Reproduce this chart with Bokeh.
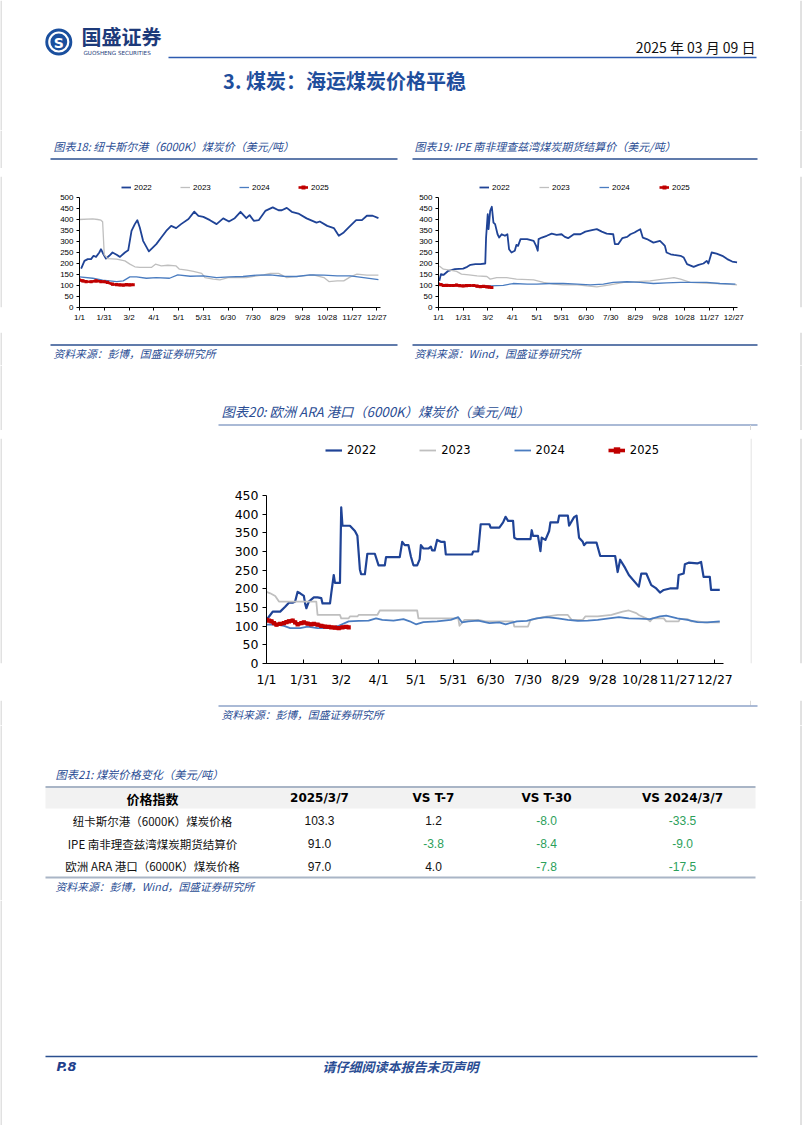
from bokeh.plotting import figure
from bokeh.models import Range1d, FixedTicker, Legend, LegendItem
from bokeh.layouts import column, row
from bokeh.core.properties import value
from bokeh.embed import file_html
from bokeh.resources import INLINE

# ---------------- data ----------------
YEARS = ["2022", "2023", "2024", "2025"]
XTICKS = [0, 30, 60, 90, 120, 150, 180, 210, 240, 270, 300, 330, 360]
XLABELS = ["1/1", "1/31", "3/2", "4/1", "5/1", "5/31", "6/30", "7/30", "8/29", "9/28", "10/28", "11/27", "12/27"]

# Newcastle (6000K) coal price, USD/t  -- (day of year, price)
NCL_2022 = [(2,177),(6,212),(10,220),(14,220),(17,235),(20,230),(24,250),(26,265),(29,242),(32,222),
            (36,235),(40,250),(45,240),(49,230),(55,250),(59,260),(63,348),(67,379),(70,397),(73,364),
            (77,303),(84,255),(89,273),(93,288),(99,318),(105,348),(111,371),(117,361),(123,379),(132,402),
            (139,436),(144,417),(150,412),(158,397),(166,379),(174,405),(181,391),(188,406),(195,435),(202,406),
            (206,420),(211,394),(217,397),(225,439),(234,455),(241,442),(245,442),(251,453),(257,435),(265,427),
            (275,405),(287,386),(291,391),(300,371),(308,361),(314,326),(320,341),(326,364),(335,397),(342,397),
            (348,417),(355,417),(362,406)]
NCL_2023 = [(0,400),(16,403),(22,400),(26,397),(28,390),(30,240),(34,222),(45,220),(55,212),(61,197),
            (67,185),(73,182),(81,182),(87,182),(92,197),(99,189),(107,192),(117,189),(121,174),(130,170),
            (138,164),(148,155),(152,136),(162,129),(170,126),(180,136),(190,136),(202,136),(211,141),(223,148),
            (231,155),(241,155),(251,136),(259,139),(271,144),(283,148),(296,136),(302,118),(312,121),(320,121),
            (328,139),(336,152),(348,147),(362,147)]
NCL_2024 = [(0,139),(16,133),(28,124),(45,118),(53,121),(61,139),(69,139),(81,133),(93,136),(109,133),
            (119,148),(134,142),(150,144),(166,136),(182,139),(198,141),(215,147),(231,148),(247,142),(263,141),
            (279,148),(296,147),(312,144),(328,144),(344,136),(362,127)]
NCL_2025 = [(0,125),(4,121),(8,118),(14,117),(20,121),(26,118),(30,117),(34,114),(40,106),(45,104),
            (49,103),(53,102),(57,104),(61,103),(65,103.3)]

# IPE Richards Bay coal futures settlement, USD/t
IPE_2022 = [(1,121),(3,152),(6,148),(12,167),(20,174),(30,177),(35,185),(39,194),(45,197),(51,197),
            (57,200),(58,318),(60,424),(61,356),(63,439),(65,458),(67,386),(69,379),(72,333),(74,318),
            (77,333),(81,326),(84,333),(86,265),(89,250),(93,258),(95,285),(97,280),(100,311),(108,311),
            (116,303),(119,280),(121,258),(122,311),(126,318),(132,326),(138,336),(144,330),(150,333),(154,321),
            (158,315),(165,333),(173,333),(179,345),(187,352),(193,356),(199,345),(205,336),(213,333),(215,288),
            (219,288),(224,315),(230,321),(234,333),(239,341),(242,348),(246,356),(249,318),(254,311),(262,295),
            (270,303),(274,288),(276,280),(278,250),(283,242),(287,239),(295,235),(299,227),(303,197),(311,185),
            (317,194),(323,200),(327,212),(329,200),(333,250),(339,245),(346,235),(352,220),(358,209),(364,205)]
IPE_2023 = [(1,189),(6,174),(14,170),(22,164),(28,152),(37,148),(47,144),(59,141),(63,129),(71,136),
            (83,136),(95,129),(116,126),(128,114),(140,106),(152,103),(169,103),(181,98),(193,94),(209,103),
            (226,114),(242,118),(258,121),(274,129),(287,136),(295,129),(307,114),(323,111),(339,109),(352,106),
            (364,103)]
IPE_2024 = [(0,106),(14,103),(30,98),(47,98),(63,98),(79,101),(91,109),(108,106),(120,106),(136,109),
            (152,109),(169,106),(185,103),(201,106),(213,114),(230,117),(246,114),(262,109),(278,112),(295,114),
            (311,114),(327,114),(343,109),(362,106)]
IPE_2025 = [(0,106),(3,104),(6,100),(10,101),(14,100),(18,100),(22,102),(26,99),(30,98),(34,99),
            (38,100),(43,100),(47,97),(51,95),(55,96),(59,94),(62,93),(65,91)]

# Europe ARA (6000K) coal price, USD/t
ARA_2022 = [(0,117),(3,130),(5,139),(11,139),(15,152),(18,163),(21,163),(23,166),(25,192),(27,188),
            (30,181),(31,161),(32,148),(34,166),(38,177),(41,177),(44,175),(45,161),(51,161),(52,188),
            (54,237),(55,216),(59,216),(60,418),(61,369),(67,369),(71,355),(73,342),(75,252),(76,239),
            (79,239),(81,294),(87,294),(90,263),(95,263),(96,285),(107,285),(109,326),(111,317),(114,317),
            (116,286),(118,263),(121,263),(123,279),(124,317),(126,308),(130,308),(132,313),(133,303),(135,303),
            (137,331),(140,326),(143,326),(144,292),(165,292),(166,300),(170,300),(172,373),(179,373),(180,364),
            (187,364),(190,378),(192,393),(194,382),(198,382),(199,337),(201,333),(212,333),(213,357),(214,342),
            (218,342),(220,301),(221,337),(224,331),(227,355),(228,378),(234,378),(235,396),(242,396),(243,369),
            (247,392),(249,396),(251,337),(254,326),(255,317),(257,324),(265,324),(268,288),(280,288),(282,245),
            (284,278),(288,256),(291,237),(299,206),(301,241),(305,241),(309,210),(313,201),(316,190),(319,197),
            (324,201),(330,201),(331,237),(335,241),(336,266),(339,270),(346,268),(349,272),(351,232),(356,232),
            (357,197),(364,197)]
ARA_2023 = [(0,192),(3,188),(7,181),(10,166),(40,166),(41,130),(59,130),(60,121),(66,121),(67,126),
            (73,126),(74,130),(89,130),(91,142),(121,142),(122,121),(154,121),(155,101),(159,117),(170,117),
            (176,113),(198,113),(199,99),(210,99),(212,117),(222,124),(234,130),(242,130),(245,117),(254,117),
            (256,126),(266,126),(277,130),(286,139),(291,142),(297,135),(299,130),(305,121),(308,113),(310,121),
            (319,121),(321,113),(331,113),(332,119),(338,119),(341,113),(346,113),(352,110),(364,110)]
ARA_2024 = [(0,104),(7,105),(14,101),(19,95),(27,95),(33,99),(41,95),(49,95),(58,101),(66,113),
            (74,114),(82,115),(88,121),(93,117),(102,115),(110,119),(115,113),(120,105),(126,111),(137,113),
            (148,117),(154,124),(157,110),(162,113),(170,115),(179,108),(187,110),(192,105),(201,113),(209,114),
            (217,121),(225,124),(234,121),(242,117),(250,114),(258,115),(266,117),(275,121),(283,124),(291,121),
            (299,120),(308,119),(316,126),(321,128),(330,121),(338,117),(346,111),(354,110),(364,113)]
ARA_2025 = [(0,117),(2,115),(4,113),(6,108),(8,104),(11,106),(14,108),(16,111),(18,113),(21,115),
            (23,110),(25,105),(28,108),(30,110),(33,107),(36,105),(38,106),(41,104),(44,101),(47,99),
            (50,98),(52,97),(55,96),(58,95),(61,97),(64,98),(66,97)]

# Table 21
TBL_HEADERS = ["价格指数", "2025/3/7", "VS T-7", "VS T-30", "VS 2024/3/7"]
TBL_NAMES = ["纽卡斯尔港（6000K）煤炭价格", "IPE 南非理查兹湾煤炭期货结算价", "欧洲 ARA 港口（6000K）煤炭价格"]
TBL_LATEST = [103.3, 91.0, 97.0]
TBL_VS_T7 = [1.2, -3.8, 4.0]
TBL_VS_T30 = [-8.0, -8.4, -7.8]
TBL_VS_YOY = [-33.5, -9.0, -17.5]

# ---------------- style ----------------
CJK = "Noto Sans CJK SC"
LAT = "DejaVu Sans"
NARROW = "Liberation Sans"
BLUE_TXT = "#2a4d94"
NAVY = "#1f3f8c"
COLORS = {"2022": "#1f4396", "2023": "#bfbfbf", "2024": "#4a7cc0", "2025": "#c00000"}
GREEN = "#2ca05a"
EDGE = "#c4c4c4"
PAGE_W = 802


def band(x0, x1, y0, y1, edges=(True, True)):
    f = figure(width=int(x1 - x0), height=int(y1 - y0), x_range=Range1d(start=x0, end=x1),
               y_range=Range1d(start=y1, end=y0), output_backend="svg", toolbar_location=None,
               x_axis_type=None, y_axis_type=None, min_border=0, outline_line_color=None)
    f.grid.visible = False
    if edges[0] and x0 <= 0.5 <= x1:
        f.line(x=[0.5, 0.5], y=[y0, y1], line_color=EDGE, line_width=1)
    if edges[1] and x0 <= 800.5 <= x1:
        f.line(x=[800.5, 800.5], y=[y0, y1], line_color=EDGE, line_width=1)
    return f


def txt(f, x, y, s, size, color="#000000", font=CJK, style="normal", align="left"):
    f.text(x=[x], y=[y], text=[s], text_font=value(font), text_font_size=value(f"{size}px"),
           text_color=color, text_font_style=style, text_align=align, text_baseline="middle")


def hline(f, x0, x1, y, color, w):
    f.line(x=[x0, x1], y=[y, y], line_color=color, line_width=w)


def vline(f, x, y0, y1, color, w):
    f.line(x=[x, x], y=[y0, y1], line_color=color, line_width=w)


def chart(fx0, fx1, fy0, fy1, left, right, top, bottom, xmax, ymax, ystep, ppu, series,
          tick_font, tick_fs, widths, ms, leg, big=False):
    # frame spans [top, bottom] in page pixels; data 0..ymax fills the lower part, legend sits above
    yend = (bottom - top) / ppu
    p = figure(width=fx1 - fx0, height=fy1 - fy0, x_range=Range1d(start=0, end=xmax),
               y_range=Range1d(start=0, end=yend), output_backend="svg", toolbar_location=None,
               min_border_left=left - fx0, min_border_right=fx1 - right,
               min_border_top=top - fy0, min_border_bottom=fy1 - bottom)
    p.grid.visible = False
    p.outline_line_color = None
    items = []
    for yr, data in zip(YEARS, series):
        d = [a for a, b in data]
        v = [b for a, b in data]
        r = p.line(d, v, line_color=COLORS[yr], line_width=widths[yr], line_join="round")
        rs = [r]
        if yr == "2025":
            rs.append(p.scatter(d, v, marker="square", size=ms, fill_color=COLORS[yr], line_color=None))
        items.append(LegendItem(label=yr, renderers=rs))
    p.xaxis.ticker = FixedTicker(ticks=XTICKS)
    p.xaxis.major_label_overrides = dict(zip(XTICKS, XLABELS))
    p.yaxis.ticker = FixedTicker(ticks=list(range(0, ymax + 1, ystep)))
    p.yaxis.bounds = (0, ymax)
    p.axis.minor_tick_line_color = None
    p.axis.axis_line_color = "#000000"
    p.axis.major_tick_line_color = "#000000"
    p.axis.major_label_text_color = "#000000"
    p.axis.major_label_text_font = tick_font
    p.axis.major_label_text_font_size = f"{tick_fs}px"
    if big:
        p.xaxis.major_tick_in = 4
        p.xaxis.major_tick_out = 0
        p.xaxis.major_label_standoff = 8
        p.yaxis.major_tick_in = 0
        p.yaxis.major_tick_out = 4
        p.yaxis.major_label_standoff = 4
    else:
        p.xaxis.major_tick_in = 0
        p.xaxis.major_tick_out = 3
        p.xaxis.major_label_standoff = 2
        p.yaxis.major_tick_in = 0
        p.yaxis.major_tick_out = 3
        p.yaxis.major_label_standoff = 3
    lx, ly, gw, gh, ls, sp, lfont, lfs = leg
    legend = Legend(items=items, orientation="horizontal", location=(lx, ly), glyph_width=gw,
                    glyph_height=gh, label_height=gh, label_standoff=ls, spacing=sp, padding=0,
                    margin=0, border_line_color=None, background_fill_alpha=0,
                    label_text_font=lfont, label_text_font_size=f"{lfs}px", label_text_color="#000000")
    p.add_layout(legend)
    return p


# ---------------- header ----------------
A = band(0, PAGE_W, 0, 130)
A.scatter(x=[58.3], y=[41.5], size=27, marker="circle", fill_color="#1a4f9e", line_color=None)
A.scatter(x=[58.3], y=[41.5], size=19, marker="circle", fill_color=None, line_color="white", line_width=2.2)
txt(A, 58.3, 42, "S", 14, "white", LAT, "bold", "center")
txt(A, 81, 36, "国盛证券", 20, "#1d3a7a", CJK, "bold")
txt(A, 83, 52.5, "GUOSHENG SECURITIES", 5.6, "#1d3a7a", LAT)
hline(A, 168, 756, 57, "#2d5bb0", 1.6)
txt(A, 755, 46.5, "2025 年 03 月 09 日", 14, "#111111", CJK, "normal", "right")
txt(A, 344, 80, "3. 煤炭：海运煤炭价格平稳", 20, "#1f4e9c", CJK, "bold", "center")

# ---------------- charts 18 & 19 ----------------
B1 = band(0, PAGE_W, 130, 168)
txt(B1, 53, 145, "图表18: 纽卡斯尔港（6000K）煤炭价（美元/吨）", 11, BLUE_TXT, CJK, "italic")
txt(B1, 414, 145, "图表19: IPE 南非理查兹湾煤炭期货结算价（美元/吨）", 11, BLUE_TXT, CJK, "italic")
hline(B1, 50, 397, 158.5, "#2b4f8f", 1.5)
hline(B1, 412, 757, 158.5, "#2b4f8f", 1.5)

small_w = {"2022": 1.8, "2023": 1.3, "2024": 1.3, "2025": 2.6}
sB_L = band(0, 8, 168, 332)
c18 = chart(8, 404, 168, 332, 79, 380, 176, 307, 364.5, 500, 50, 0.22,
            [NCL_2022, NCL_2023, NCL_2024, NCL_2025], NARROW, 8, small_w, 3.2,
            (42, 114, 10, 12, 3, 26, NARROW, 8))
c19 = chart(404, 794, 168, 332, 438, 737, 176, 307, 364.5, 500, 50, 0.22,
            [IPE_2022, IPE_2023, IPE_2024, IPE_2025], NARROW, 8, small_w, 3.2,
            (41, 114, 10, 12, 3, 27, NARROW, 8))
sB_R = band(794, PAGE_W, 168, 332)

B3 = band(0, PAGE_W, 332, 365)
hline(B3, 50, 397, 344.5, "#2b4f8f", 1.5)
hline(B3, 412, 757, 344.5, "#2b4f8f", 1.5)
txt(B3, 53, 352.5, "资料来源：彭博，国盛证券研究所", 10.8, BLUE_TXT, CJK, "italic")
txt(B3, 414, 352.5, "资料来源：Wind，国盛证券研究所", 10.8, BLUE_TXT, CJK, "italic")

# ---------------- chart 20 ----------------
C1 = band(0, PAGE_W, 365, 430)
txt(C1, 221, 411, "图表20: 欧洲 ARA 港口（6000K）煤炭价（美元/吨）", 13.3, BLUE_TXT, CJK, "italic")
hline(C1, 218, 757, 424.5, "#8ea3c9", 1.6)
vline(C1, 750, 424.5, 430, "#d9d9d9", 1)

spL = band(0, 218, 430, 700)
big_w = {"2022": 2.2, "2023": 1.8, "2024": 1.8, "2025": 3.6}
c20 = chart(218, 750, 430, 700, 266, 723, 438, 663, 367, 450, 50, 168 / 450,
            [ARA_2022, ARA_2023, ARA_2024, ARA_2025], LAT, 12.5, big_w, 4.2,
            (59, 205, 17, 16, 5, 43, LAT, 11.5), big=True)
spR = band(750, PAGE_W, 430, 700)
vline(spR, 750.5, 430, 700, "#d9d9d9", 1)

C3 = band(0, PAGE_W, 700, 725)
vline(C3, 750, 700, 705, "#d9d9d9", 1)
hline(C3, 218, 757, 705.5, "#8ea3c9", 1.5)
txt(C3, 221, 713.5, "资料来源：彭博，国盛证券研究所", 10.8, BLUE_TXT, CJK, "italic")

# ---------------- table 21 ----------------
D = band(0, PAGE_W, 725, 900)
txt(D, 55, 773, "图表21: 煤炭价格变化（美元/吨）", 11.2, BLUE_TXT, CJK, "italic")
D.quad(left=[45], right=[755], top=[787], bottom=[808], fill_color="#f2f2f2", line_color=None)
hline(D, 45, 755, 786.5, "#a9b5c6", 2)
hline(D, 45, 755, 877, "#a9b5c6", 2)
COL_X = [152, 319, 433, 546, 682]
ROW_Y = [820, 843, 865.5]
for i, h in enumerate(TBL_HEADERS):
    txt(D, COL_X[i], 797.5, h, 13 if i == 0 else 12, "#000000", CJK if i == 0 else LAT, "bold", "center")
D.text(x=[COL_X[0]] * 3, y=ROW_Y, text=TBL_NAMES, text_font=value(CJK), text_font_size=value("11.5px"),
       text_color="#111111", text_align="center", text_baseline="middle")
for ci, col in enumerate([TBL_LATEST, TBL_VS_T7, TBL_VS_T30, TBL_VS_YOY], start=1):
    colors = ["#111111" if (ci == 1 or v >= 0) else GREEN for v in col]
    D.text(x=[COL_X[ci]] * 3, y=ROW_Y, text=[f"{v:.1f}" for v in col], text_font=value(NARROW),
           text_font_size=value("12px"), text_color=colors, text_align="center", text_baseline="middle")
txt(D, 55, 885, "资料来源：彭博，Wind，国盛证券研究所", 10.8, BLUE_TXT, CJK, "italic")

# ---------------- footer ----------------
E = band(0, PAGE_W, 900, 1125)
hline(E, 45, 757, 1056, "#2b4f8f", 1.5)
txt(E, 56, 1066, "P.8", 13, NAVY, LAT, "bold italic")
txt(E, 400, 1066, "请仔细阅读本报告末页声明", 13, BLUE_TXT, CJK, "bold italic", "center")

page = column(A, B1, row(sB_L, c18, c19, sB_R), B3, C1, row(spL, c20, spR), C3, D, E)
open("out.html", "w").write(file_html(page, INLINE, title="煤炭：海运煤炭价格平稳"))
